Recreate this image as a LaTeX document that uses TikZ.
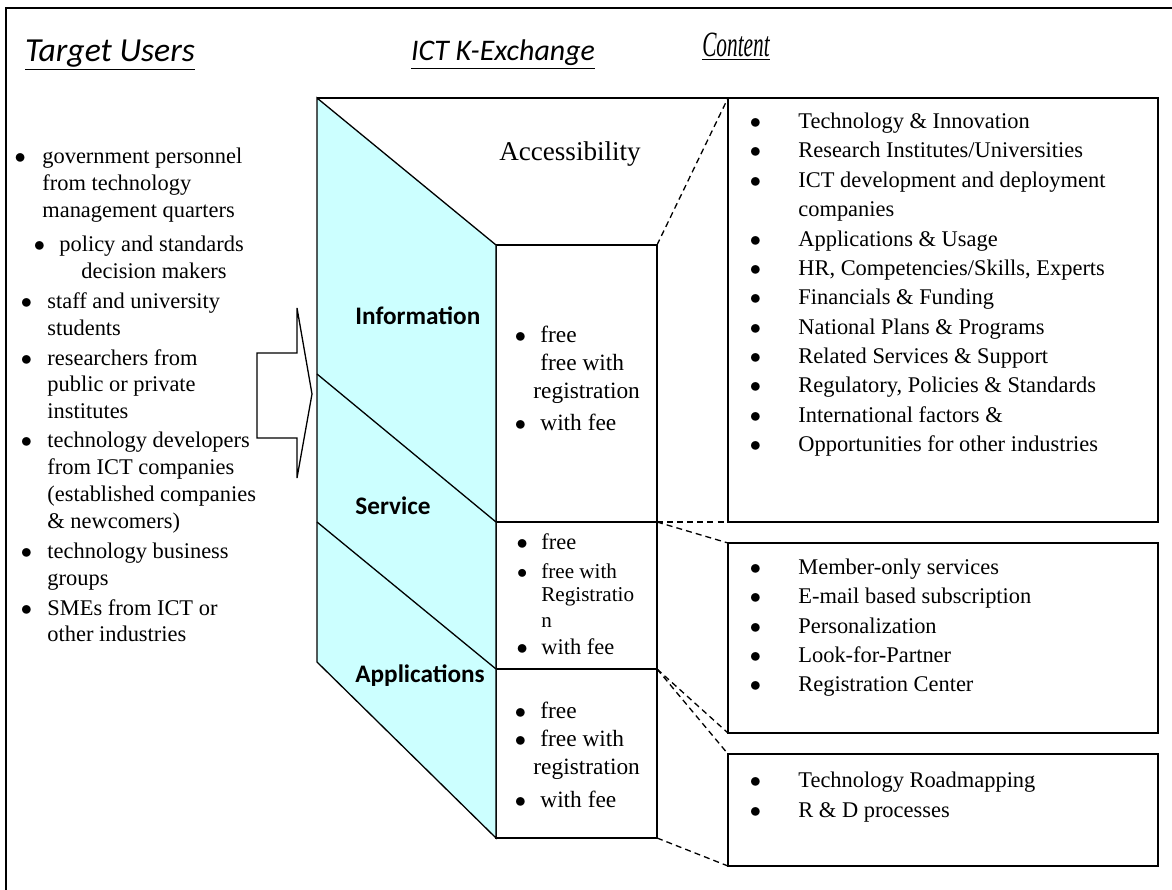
\documentclass[tikz,border=0pt]{standalone}
\usepackage{fontspec}
\usepackage{graphicx}
\setmainfont{Liberation Serif}
\newfontfamily\calibrifont{Carlito}
\usetikzlibrary{
	positioning,	% Relative positioning
	calc			% Coordinate calculations
}
\newdimen\pxunit
\pxunit=0.535pt
\newcommand{\bul}[1][10.7pt]{\llap{\makebox[0pt]{$\bullet$}\hspace{#1}}}

\begin{document}
\begin{tikzpicture}
	[
	,x=0.535pt
	,y=-0.535pt
	,front_box/.style = {
		,draw=black
		,minimum width=161*\pxunit
		,inner sep=0pt
		,outer sep=0pt
		,line width=0.9pt}
	,content_box/.style = {
		,draw=black
		,minimum width=430*\pxunit
		,inner sep=0pt
		,outer sep=0pt
		,line width=0.9pt}
	,header_label/.style = {
		,inner sep=0pt
		,font=\calibrifont\itshape\fontsize{16}{19}\selectfont}
	,side_label/.style = {
		,anchor=west
		,inner sep=0pt
		,font=\calibrifont\bfseries\fontsize{13.5}{16}\selectfont}
	,list_text/.style = {
		,anchor=north west
		,align=left
		,inner sep=0pt}
	,link/.style = {
		,dash pattern=on 3.2pt off 2.2pt
		,line width=0.7pt}
	]

	\useasboundingbox (0,0) rectangle (1172,890);
	\clip (0,0) rectangle (1172,890);

	% Outer frame
	\draw[line width=1.1pt] (6,8) rectangle (1190,910);

	% Headers
	\node[header_label, font=\calibrifont\itshape\fontsize{18}{21}\selectfont] (users_head) at (110,55) {\underline{Target Users}};
	\node[header_label] (exchange_head) at (503,55) {\underline{ICT K-Exchange}};
	\node[inner sep=0pt, font=\itshape\fontsize{19}{22}\selectfont] (content_head) at (736,47) {\scalebox{0.6}[1]{\underline{Content}}};

	% Accessibility boxes
	\node[front_box, minimum height=277*\pxunit] (info) at (576.5,383.5) {};
	\node[front_box, minimum height=147*\pxunit, below=0pt of info] (serv) {};
	\node[front_box, minimum height=169*\pxunit, below=0pt of serv] (apps) {};

	% Content boxes
	\node[content_box, minimum height=424*\pxunit] (content_a) at (943,310) {};
	\node[content_box, minimum height=190*\pxunit] (content_b) at (943,638) {};
	\node[content_box, minimum height=112*\pxunit] (content_c) at (943,810) {};

	% Prism side
	\coordinate (prism_top)  at (317,98);
	\coordinate (prism_cut1) at (317,374);
	\coordinate (prism_cut2) at (317,522);
	\coordinate (prism_bot)  at (317,662);
	\draw[fill={rgb,255:red,204;green,255;blue,255}, line width=0.7pt]
		(prism_top) -- (info.north west) -- (apps.south west) -- (prism_bot) -- cycle;
	\draw[line width=0.7pt] (prism_cut1) -- (info.south west);
	\draw[line width=0.7pt] (prism_cut2) -- (serv.south west);
	\draw[line width=0.7pt] (prism_top) -- (content_a.north west);

	% Dashed links to content
	\draw[link] (info.north east) -- (content_a.north west);
	\draw[link] (info.south east) -- (content_a.south west);
	\draw[link] (info.south east) -- (content_b.north west);
	\draw[link] (serv.south east) -- (content_b.south west);
	\draw[link] (serv.south east) -- (content_c.north west);
	\draw[link] (apps.south east) -- (content_c.south west);

	% Block arrow
	\draw[line width=0.7pt] (257,353) -- (297,353) -- (297,308) -- (312,394)
		-- (297,478) -- (297,438) -- (257,438) -- cycle;

	% Labels
	\node[font=\fontsize{14.5}{17}\selectfont, inner sep=0pt] (access) at (570,154) {Accessibility};
	\node[side_label] (info_label) at (355,316) {Information};
	\node[side_label] (serv_label) at (355,506) {Service};
	\node[side_label] (apps_label) at (355,676) {Applications};

	% Target users list
	\node[list_text, font=\fontsize{12}{14.35}\selectfont] (users_list) at (42,148) {
		\bul[11.8pt]government personnel\\
		from technology\\
		management quarters\\[3.8pt]
		\hspace*{9.1pt}\bul[10.7pt]policy and standards\\
		\hspace*{20.9pt}decision makers\\[1.7pt]
		\hspace*{2.7pt}\bul[11.2pt]staff and university\\
		\hspace*{2.7pt}students\\[1.7pt]
		\hspace*{2.7pt}\bul[11.2pt]researchers from\\
		\hspace*{2.7pt}public or private\\
		\hspace*{2.7pt}institutes\\[1.2pt]
		\hspace*{2.7pt}\bul[11.2pt]technology developers\\
		\hspace*{2.7pt}from ICT companies\\
		\hspace*{2.7pt}(established companies\\
		\hspace*{2.7pt}\& newcomers)\\[1.7pt]
		\hspace*{2.7pt}\bul[11.2pt]technology business\\
		\hspace*{2.7pt}groups\\[1.7pt]
		\hspace*{2.7pt}\bul[11.2pt]SMEs from ICT or\\
		\hspace*{2.7pt}other industries};

	% Accessibility lists
	\node[list_text, font=\fontsize{12.5}{15}\selectfont] (info_list) at ($(info.north west)+(44,81)$) {
		\bul free\\
		free with\\
		\hspace*{-3.7pt}registration\\[2.1pt]
		\bul with fee};
	\node[list_text, font=\fontsize{12}{12.3}\selectfont] (serv_list) at ($(serv.north west)+(45,11)$) {
		\bul[10.2pt]free\\[3.2pt]
		{\fontsize{11.3}{12.3}\selectfont\bul[10.2pt]free with}\\
		{\fontsize{11.3}{12.3}\selectfont Registratio}\\[1.6pt]
		{\fontsize{11.3}{12.3}\selectfont n}\\[2.1pt]
		\bul[10.2pt]with fee};
	\node[list_text, font=\fontsize{12.5}{15}\selectfont] (apps_list) at ($(apps.north west)+(44,33)$) {
		\bul free\\
		\bul free with\\
		\hspace*{-3.7pt}registration\\[2.7pt]
		\bul with fee};

	% Content lists
	\node[list_text, font=\fontsize{12}{15.7}\selectfont] (content_a_list) at ($(content_a.north west)+(70,14.7)$) {
		\bul[23pt]Technology \& Innovation\\
		\bul[23pt]Research Institutes/Universities\\
		\bul[23pt]ICT development and deployment\\
		companies\\
		\bul[23pt]Applications \& Usage\\
		\bul[23pt]HR, Competencies/Skills, Experts\\
		\bul[23pt]Financials \& Funding\\
		\bul[23pt]National Plans \& Programs\\
		\bul[23pt]Related Services \& Support\\
		\bul[23pt]Regulatory, Policies \& Standards\\
		\bul[23pt]International factors \&\\
		\bul[23pt]Opportunities for other industries};
	\node[list_text, font=\fontsize{12}{15.7}\selectfont] (content_b_list) at ($(content_b.north west)+(70,15.5)$) {
		\bul[23pt]Member-only services\\
		\bul[23pt]E-mail based subscription\\
		\bul[23pt]Personalization\\
		\bul[23pt]Look-for-Partner\\
		\bul[23pt]Registration Center};
	\node[list_text, font=\fontsize{12}{15.7}\selectfont] (content_c_list) at ($(content_c.north west)+(70,18)$) {
		\bul[23pt]Technology Roadmapping\\
		\bul[23pt]R \& D processes};
\end{tikzpicture}
\end{document}
